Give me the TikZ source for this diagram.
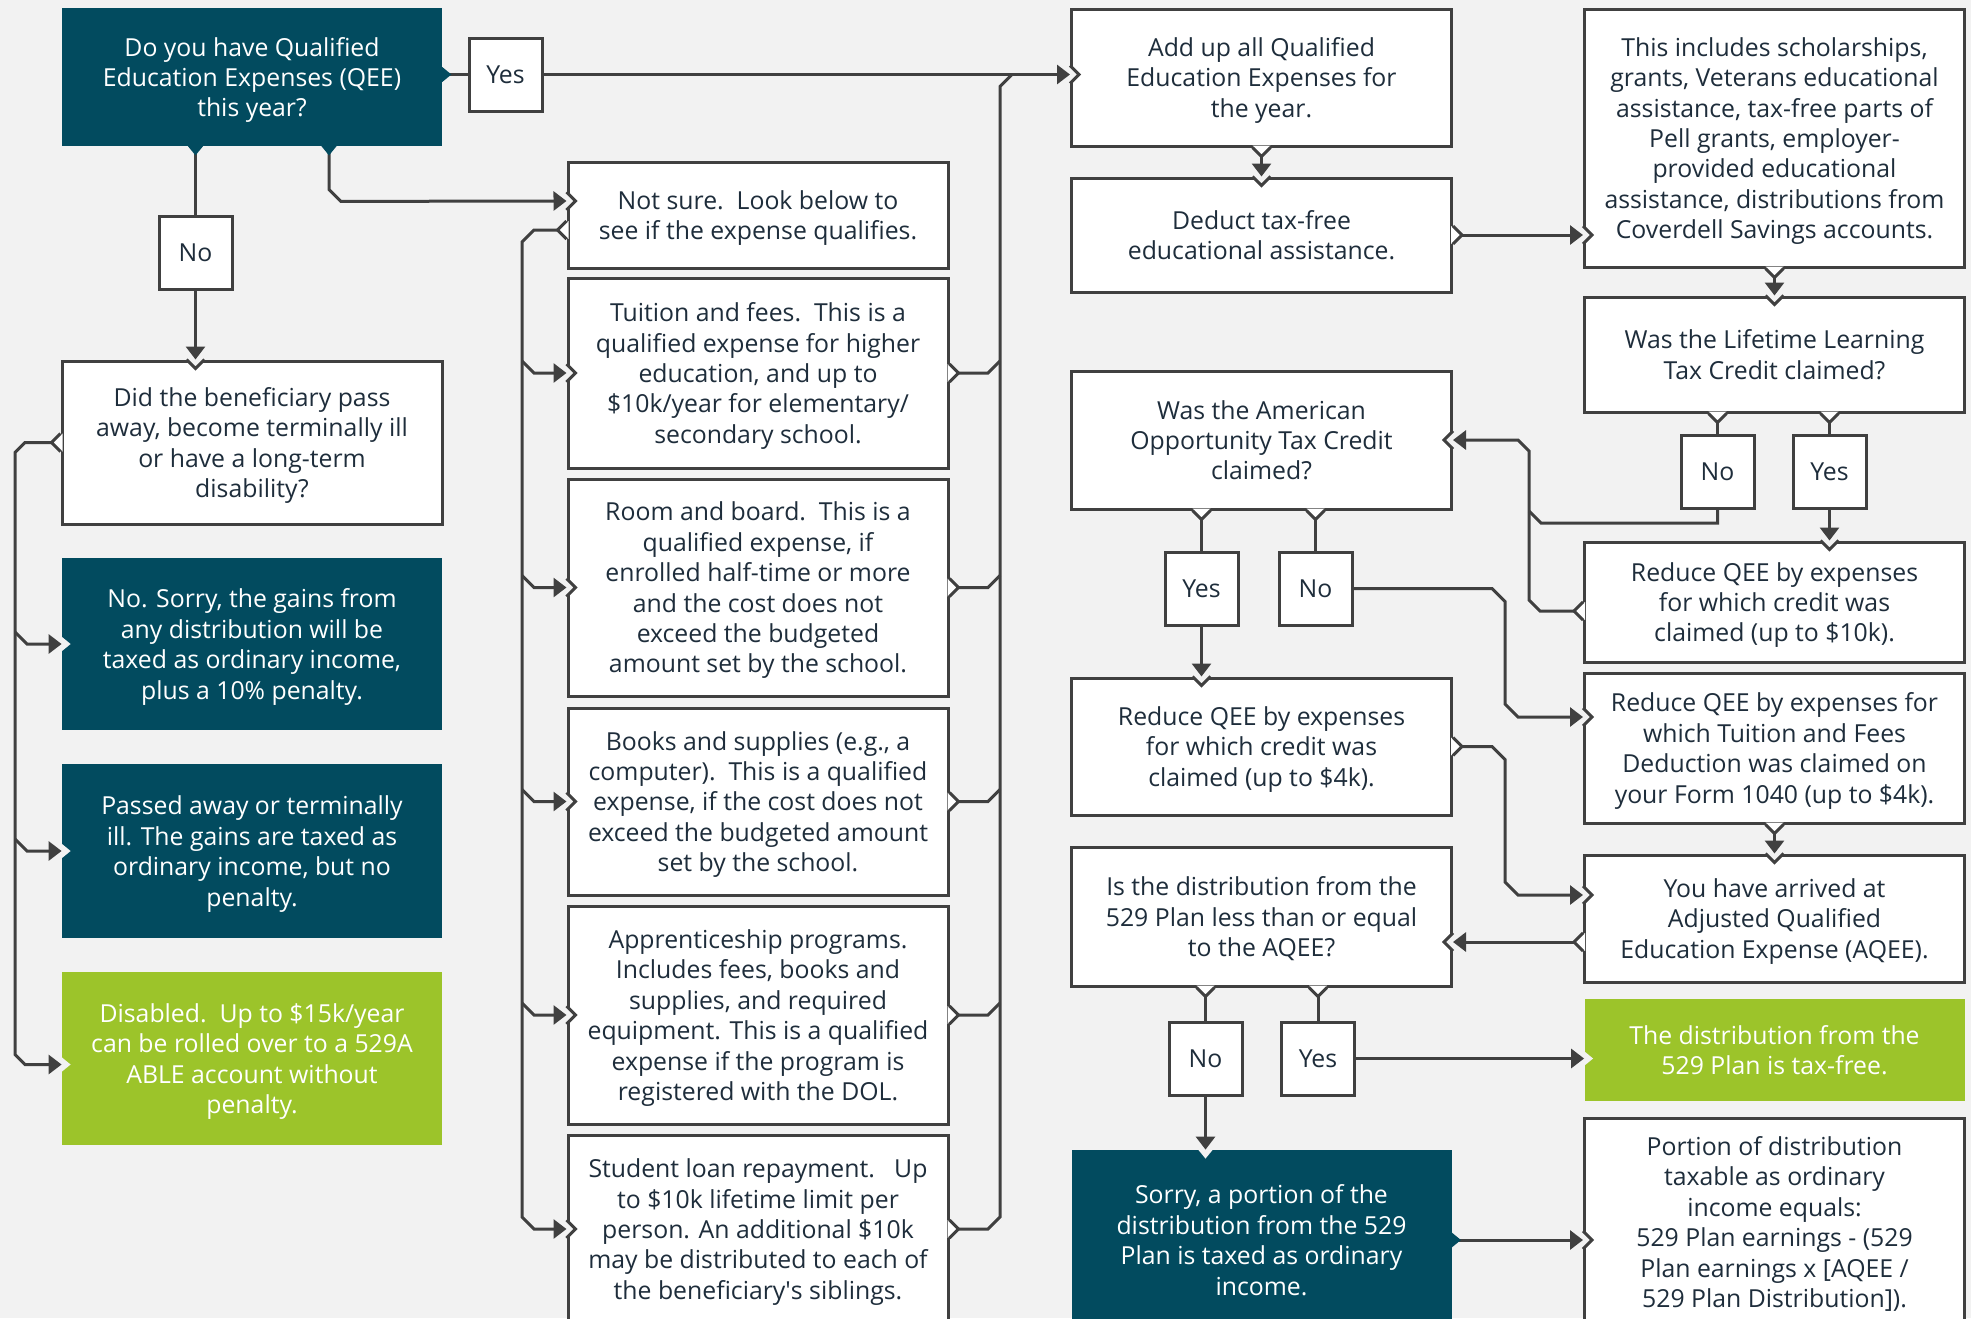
\documentclass[tikz,border=0pt]{standalone}
\usepackage{fontspec}
\setmainfont{Open Sans}
\usetikzlibrary{arrows.meta,calc}

\definecolor{bgc}{HTML}{F2F2F2}
\definecolor{deep}{HTML}{024B5F}
\definecolor{leaf}{HTML}{9CC42A}
\definecolor{rimc}{HTML}{404040}
\definecolor{ink}{HTML}{1E2D3B}

% small V on a box edge: notch (fill = background, pointing in) or bump (fill = box, pointing out)
\newcommand{\nick}[3]{%
  \begin{scope}[shift={(#1)},rotate=#2]
    \fill[#3] (-2,-9) -- (9,0) -- (-2,9) -- cycle;
    \draw[rim] (0,-9) -- (9,0) -- (0,9);
  \end{scope}}
\newcommand{\nickf}[3]{%
  \begin{scope}[shift={(#1)},rotate=#2]
    \fill[#3] (-2,-9) -- (9,0) -- (-2,9) -- cycle;
  \end{scope}}

\begin{document}
\begin{tikzpicture}[x=0.5pt,y=-0.5pt,>={Triangle[length=6.5pt,width=9.5pt]}]
  \tikzstyle{rim}=[draw=rimc,line width=1.5pt,line join=miter]
  \tikzstyle{edge}=[rim]
  \tikzstyle{box}=[rectangle,inner sep=0pt,align=center,minimum width=190pt,
                   text depth=0pt,font=\fontsize{12.4}{15.2}\selectfont]
  \tikzstyle{wbox}=[box,rim,fill=white,text=ink]
  \tikzstyle{dbox}=[box,fill=deep,text=white]
  \tikzstyle{gbox}=[box,fill=leaf,text=white]
  \tikzstyle{tag}=[wbox,minimum width=36.5pt,minimum height=36.5pt]

  \useasboundingbox (0,0) rectangle (1971,1318);
  \clip (0,0) rectangle (1971,1318);
  \fill[bgc] (0,0) rectangle (1971,1318);

  % left column
  \node[dbox,minimum height=69pt] (q1) at (252,77)
    {Do you have Qualified\\Education Expenses (QEE)\\this year?};
  \node[wbox,minimum height=81.5pt] (did) at (252,442.5)
    {Did the beneficiary pass\\away, become terminally ill\\or have a long-term\\disability?};
  \node[dbox,minimum height=86pt] (nosorry) at (252,644)
    {No. Sorry, the gains from\\any distribution will be\\taxed as ordinary income,\\plus a 10\% penalty.};
  \node[dbox,minimum height=87pt] (passed) at (252,851)
    {Passed away or terminally\\ill. The gains are taxed as\\ordinary income, but no\\penalty.};
  \node[gbox,minimum height=86.5pt] (disabled) at (252,1058.5)
    {Disabled.~~Up to \$15k/year\\can be rolled over to a 529A\\ABLE account without\\penalty.};

  % middle column
  \node[wbox,minimum height=53pt] (notsure) at (758,215)
    {Not sure.~~Look below to\\see if the expense qualifies.};
  \node[wbox,minimum height=95pt] (tuition) at (758,373)
    {Tuition and fees.~~This is a\\qualified expense for higher\\education, and up to\\\$10k/year for elementary/\\secondary school.};
  \node[wbox,minimum height=108.5pt] (room) at (758,587.5)
    {Room and board.~~This is a\\qualified expense, if\\enrolled half-time or more\\and the cost does not\\exceed the budgeted\\amount set by the school.};
  \node[wbox,minimum height=93.5pt] (books) at (758,801.5)
    {Books and supplies (e.g., a\\computer).~~This is a qualified\\expense, if the cost does not\\exceed the budgeted amount\\set by the school.};
  \node[wbox,minimum height=109pt] (appr) at (758,1015)
    {Apprenticeship programs.\\Includes fees, books and\\supplies, and required\\equipment. This is a qualified\\expense if the program is\\registered with the DOL.};
  \node[wbox,minimum height=94pt] (loan) at (758,1229)
    {Student loan repayment.~~~Up\\to \$10k lifetime limit per\\person. An additional \$10k\\may be distributed to each of\\the beneficiary\textquotesingle s siblings.};

  % third column
  \node[wbox,minimum height=68.5pt] (addup) at (1261.5,77.5)
    {Add up all Qualified\\Education Expenses for\\the year.};
  \node[wbox,minimum height=57pt] (deduct) at (1261.5,235)
    {Deduct tax-free\\educational assistance.};
  \node[wbox,minimum height=69pt] (aotc) at (1261.5,440)
    {Was the American\\Opportunity Tax Credit\\claimed?};
  \node[wbox,minimum height=68.5pt] (red4k) at (1261.5,746.5)
    {Reduce QEE by expenses\\for which credit was\\claimed (up to \$4k).};
  \node[wbox,minimum height=69.5pt] (isdist) at (1261.5,916.5)
    {Is the distribution from the\\529 Plan less than or equal\\to the AQEE?};
  \node[dbox,minimum height=90pt] (sorry) at (1261.5,1240)
    {Sorry, a portion of the\\distribution from the 529\\Plan is taxed as ordinary\\income.};

  % right column
  \node[wbox,minimum height=129pt] (incl) at (1774.5,138)
    {This includes scholarships,\\grants, Veterans educational\\assistance, tax-free parts of\\Pell grants, employer-\\provided educational\\assistance, distributions from\\Coverdell Savings accounts.};
  \node[wbox,minimum height=57.5pt] (lltc) at (1774.5,354.5)
    {Was the Lifetime Learning\\Tax Credit claimed?};
  \node[wbox,minimum height=60pt] (red10k) at (1774.5,602)
    {Reduce QEE by expenses\\for which credit was\\claimed (up to \$10k).};
  \node[wbox,minimum height=75pt] (redTF) at (1774.5,748)
    {Reduce QEE by expenses for\\which Tuition and Fees\\Deduction was claimed on\\your Form 1040 (up to \$4k).};
  \node[wbox,minimum height=63.5pt] (arrived) at (1774.5,918.5)
    {You have arrived at\\Adjusted Qualified\\Education Expense (AQEE).};
  \node[gbox,minimum height=51pt] (taxfree) at (1774.5,1050)
    {The distribution from the\\529 Plan is tax-free.};
  \node[wbox,minimum height=104pt] (portion) at (1774.5,1222)
    {Portion of distribution\\taxable as ordinary\\income equals:\\529 Plan earnings - (529\\Plan earnings x [AQEE /\\529 Plan Distribution]).};

  % answer tags
  \node[tag] (yesA) at (505.5,74.5) {Yes};
  \node[tag] (noA) at (195.5,252.5) {No};
  \node[tag] (aYes) at (1201.5,588.5) {Yes};
  \node[tag] (aNo) at (1315.5,588.5) {No};
  \node[tag] (bNo) at (1205.5,1058.5) {No};
  \node[tag] (bYes) at (1318,1058.5) {Yes};
  \node[tag] (cNo) at (1717.5,472) {No};
  \node[tag] (cYes) at (1829.5,472) {Yes};

  % bus lines and turning points
  \coordinate (busL) at (15,0);
  \coordinate (busM1) at (522,0);
  \coordinate (busM2) at (1000,0);
  \coordinate (busR1) at (1505,0);
  \coordinate (busR2) at (1529,0);
  \coordinate (q1x) at (329,0);
  \coordinate (nsIn) at ($(notsure.west)+(0,-14)$);
  \coordinate (nsOut) at ($(notsure.west)+(0,15)$);
  \coordinate (yesIn) at (addup.west |- yesA.east);
  \coordinate (disIn) at ($(disabled.west)+(0,6)$);
  \coordinate (r10Out) at ($(red10k.west)+(0,9)$);
  \coordinate (tfIn) at ($(redTF.west)+(0,-31)$);
  \coordinate (arIn) at ($(arrived.west)+(0,-23.5)$);
  \coordinate (arOut) at ($(arrived.west)+(0,23.5)$);

  % notches where arrows come in
  \nick{did.north -| noA}{-90}{bgc}
  \nickf{nosorry.west}{0}{bgc}
  \nickf{passed.west}{0}{bgc}
  \nickf{disIn}{0}{bgc}
  \nick{nsIn}{0}{bgc}
  \foreach \n in {tuition,room,books,appr,loan} {\nick{\n.west}{0}{bgc}}
  \nick{yesIn}{0}{bgc}
  \nick{deduct.north}{-90}{bgc}
  \nick{incl.west |- deduct.east}{0}{bgc}
  \nick{lltc.north}{-90}{bgc}
  \nick{red10k.north -| cYes}{-90}{bgc}
  \nick{aotc.east}{180}{bgc}
  \nick{red4k.north -| aYes}{-90}{bgc}
  \nick{tfIn}{0}{bgc}
  \nick{arrived.north}{-90}{bgc}
  \nick{arIn}{0}{bgc}
  \nick{isdist.east |- arOut}{180}{bgc}
  \nickf{sorry.north -| bNo}{-90}{bgc}
  \nickf{taxfree.west |- bYes.east}{0}{bgc}
  \nick{portion.west |- sorry.east}{0}{bgc}

  % connectors
  \draw[edge] (q1.east |- yesA) -- (yesA.west);
  \draw[edge,->] (yesA.east) -- (yesIn);
  \draw[edge] (q1.south -| noA) -- (noA.north);
  \draw[edge,->] (noA.south) -- (did.north -| noA);
  \draw[edge,->] (q1.south -| q1x) -- ++(0,43) -- ++(12,12) -- (nsIn);

  \draw[edge,->] (did.west) -- ($(busL |- did.west)+(10,0)$) -- ++(-10,10)
    -- ($(busL |- disIn)+(0,-10)$) -- ++(10,10) -- (disIn);
  \foreach \n in {nosorry,passed}
    \draw[edge,->] ($(busL |- \n.west)+(0,-12)$) -- ++(12,12) -- (\n.west);

  \draw[edge,->] (nsOut) -- ($(busM1 |- nsOut)+(12,0)$) -- ++(-12,12)
    -- ($(busM1 |- loan.west)+(0,-12)$) -- ++(12,12) -- (loan.west);
  \foreach \n in {tuition,room,books,appr} {
    \draw[edge,->] ($(busM1 |- \n.west)+(0,-12)$) -- ++(12,12) -- (\n.west);
    \draw[edge] (\n.east) -- ($(busM2 |- \n.east)+(-12,0)$) -- ++(12,-12);
  }
  \draw[edge] (loan.east) -- ($(busM2 |- loan.east)+(-12,0)$) -- ++(12,-12)
    -- ($(busM2 |- yesIn)+(0,12)$) -- ++(12,-12);

  \draw[edge,->] (addup.south) -- (deduct.north);
  \draw[edge,->] (deduct.east) -- (incl.west |- deduct.east);
  \draw[edge,->] (incl.south) -- (lltc.north);
  \draw[edge] (lltc.south -| cNo) -- (cNo.north);
  \draw[edge] (lltc.south -| cYes) -- (cYes.north);
  \draw[edge,->] (cYes.south) -- (red10k.north -| cYes);
  \draw[edge] (cNo.south) -- ++(0,13) -- ($(busR2 |- cNo.south)+(12,13)$) -- ++(-12,-12);
  \draw[edge,->] (r10Out) -- ($(busR2 |- r10Out)+(11,0)$) -- ++(-11,-11)
    -- ($(busR2 |- aotc.east)+(0,11)$) -- ++(-11,-11) -- (aotc.east);
  \draw[edge] (aotc.south -| aYes) -- (aYes.north);
  \draw[edge] (aotc.south -| aNo) -- (aNo.north);
  \draw[edge,->] (aYes.south) -- (red4k.north -| aYes);
  \draw[edge,->] (aNo.east) -- ($(busR1 |- aNo.east)+(-13,0)$) -- ++(13,13)
    -- ($(busR1 |- tfIn)+(0,-13)$) -- ++(13,13) -- (tfIn);
  \draw[edge,->] (red4k.east) -- ($(busR1 |- red4k.east)+(-13,0)$) -- ++(13,13)
    -- ($(busR1 |- arIn)+(0,-13)$) -- ++(13,13) -- (arIn);
  \draw[edge,->] (redTF.south) -- (arrived.north);
  \draw[edge,->] (arOut) -- (isdist.east |- arOut);
  \draw[edge] (isdist.south -| bNo) -- (bNo.north);
  \draw[edge] (isdist.south -| bYes) -- (bYes.north);
  \draw[edge,->] (bNo.south) -- (sorry.north -| bNo);
  \draw[edge,->] (bYes.east) -- (taxfree.west |- bYes.east);
  \draw[edge,->] (sorry.east) -- (portion.west |- sorry.east);

  % bumps where connectors leave
  \nickf{q1.east |- yesA}{0}{deep}
  \nickf{q1.south -| noA}{-90}{deep}
  \nickf{q1.south -| q1x}{-90}{deep}
  \nick{did.west}{180}{white}
  \nick{nsOut}{180}{white}
  \foreach \n in {tuition,room,books,appr,loan} {\nick{\n.east}{0}{white}}
  \nick{addup.south}{-90}{white}
  \nick{deduct.east}{0}{white}
  \nick{incl.south}{-90}{white}
  \nick{lltc.south -| cNo}{-90}{white}
  \nick{lltc.south -| cYes}{-90}{white}
  \nick{r10Out}{180}{white}
  \nick{aotc.south -| aYes}{-90}{white}
  \nick{aotc.south -| aNo}{-90}{white}
  \nick{red4k.east}{0}{white}
  \nick{redTF.south}{-90}{white}
  \nick{arOut}{180}{white}
  \nick{isdist.south -| bNo}{-90}{white}
  \nick{isdist.south -| bYes}{-90}{white}
  \nickf{sorry.east}{0}{deep}
\end{tikzpicture}
\end{document}
